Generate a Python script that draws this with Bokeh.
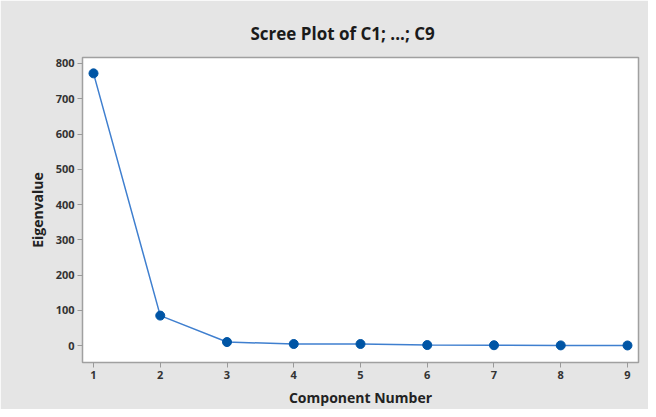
from bokeh.plotting import figure
from bokeh.embed import file_html
from bokeh.resources import INLINE
from bokeh.models import Range1d, FixedTicker, Title

components = [1, 2, 3, 4, 5, 6, 7, 8, 9]
eigenvalues = [772, 85, 10, 4.5, 4.5, 1.5, 1.0, 0.5, 0.3]
y_ticks = [0, 100, 200, 300, 400, 500, 600, 700, 800]

FONT = "Open Sans"

p = figure(width=648, height=409, output_backend="svg", toolbar_location=None,
           x_range=Range1d(0.835, 9.165), y_range=Range1d(-48, 817),
           min_border_left=82, min_border_right=10, min_border_top=57, min_border_bottom=45)
p.border_fill_color = "#e5e5e5"
p.background_fill_color = "white"
p.outline_line_color = "#a0a0a0"
p.outline_line_width = 1.5
p.xgrid.visible = False
p.ygrid.visible = False

p.title.text = "Scree Plot of C1; ...; C9"
p.title.align = "left"
p.title.offset = 168
p.title.text_font = FONT
p.title.text_font_size = "17px"
p.title.text_font_style = "bold"
p.title.text_color = "#1a1a1a"

# small empty spacer title between frame and title, to lift the title
p.add_layout(Title(text=" ", text_font_size="5px", standoff=0), "above")

for ax in (p.xaxis[0], p.yaxis[0]):
    ax.axis_line_color = None
    ax.major_tick_line_color = "#9a9a9a"
    ax.major_tick_in = 0
    ax.major_tick_out = 5
    ax.minor_tick_line_color = None
    ax.major_label_text_font = FONT
    ax.major_label_text_font_size = "11px"
    ax.major_label_text_color = "#333333"
    ax.major_label_text_font_style = "bold"
    ax.axis_label_text_font = FONT
    ax.axis_label_text_font_size = "14px"
    ax.axis_label_text_font_style = "bold"
    ax.axis_label_text_color = "#222222"

p.xaxis.ticker = FixedTicker(ticks=components)
p.yaxis.ticker = FixedTicker(ticks=y_ticks)
p.xaxis.axis_label = "Component Number"
p.yaxis.axis_label = "Eigenvalue"
p.xaxis.major_label_standoff = 3
p.yaxis.major_label_standoff = 3
p.xaxis.axis_label_standoff = 6
p.yaxis.axis_label_standoff = 6

p.line(components, eigenvalues, line_color="#3f7fcf", line_width=1.5)
p.scatter(components, eigenvalues, size=9, fill_color="#0055a5", line_color="#0055a5")

open("out.html", "w").write(file_html(p, INLINE))
